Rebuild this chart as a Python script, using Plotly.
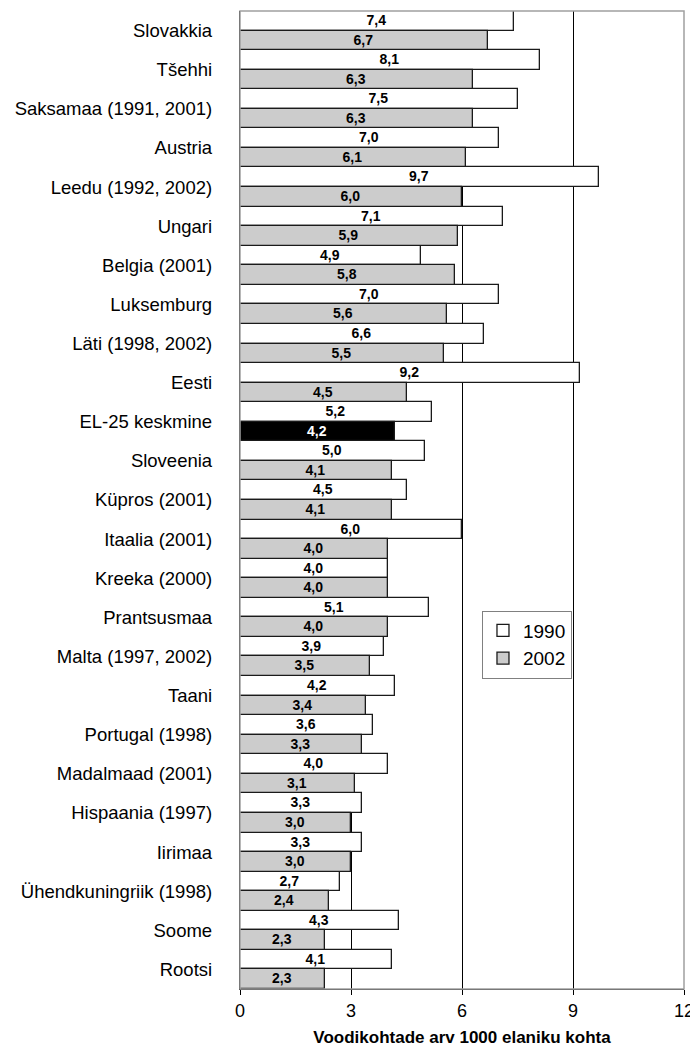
import plotly.graph_objects as go

categories = ["Slovakkia", "Tšehhi", "Saksamaa (1991, 2001)", "Austria", "Leedu (1992, 2002)",
              "Ungari", "Belgia (2001)", "Luksemburg", "Läti (1998, 2002)", "Eesti",
              "EL-25 keskmine", "Sloveenia", "Küpros (2001)", "Itaalia (2001)", "Kreeka (2000)",
              "Prantsusmaa", "Malta (1997, 2002)", "Taani", "Portugal (1998)", "Madalmaad (2001)",
              "Hispaania (1997)", "Iirimaa", "Ühendkuningriik (1998)", "Soome", "Rootsi"]
values_1990 = [7.4, 8.1, 7.5, 7.0, 9.7, 7.1, 4.9, 7.0, 6.6, 9.2,
               5.2, 5.0, 4.5, 6.0, 4.0, 5.1, 3.9, 4.2, 3.6, 4.0,
               3.3, 3.3, 2.7, 4.3, 4.1]
values_2002 = [6.7, 6.3, 6.3, 6.1, 6.0, 5.9, 5.8, 5.6, 5.5, 4.5,
               4.2, 4.1, 4.1, 4.0, 4.0, 4.0, 3.5, 3.4, 3.3, 3.1,
               3.0, 3.0, 2.4, 2.3, 2.3]
x_ticks = [0, 3, 6, 9, 12]

FONT = "Liberation Sans"

def fmt(v):
    return f"{v:.1f}".replace(".", ",")

colors_2002 = ["#000000" if c == "EL-25 keskmine" else "#cccccc" for c in categories]
textcol_2002 = ["#ffffff" if c == "EL-25 keskmine" else "#000000" for c in categories]

fig = go.Figure()
fig.add_trace(go.Bar(
    y=categories, x=values_1990, orientation="h", name="1990",
    marker=dict(color="#ffffff", line=dict(color="#1a1a1a", width=1.3)),
    text=[fmt(v) for v in values_1990], textposition="inside", insidetextanchor="middle",
    textangle=0, constraintext="none",
    textfont=dict(family=FONT, size=14, color="#000000", weight="bold"),
))
fig.add_trace(go.Bar(
    y=categories, x=values_2002, orientation="h", name="2002",
    marker=dict(color=colors_2002, line=dict(color="#1a1a1a", width=1.3)),
    text=[fmt(v) for v in values_2002], textposition="inside", insidetextanchor="middle",
    textangle=0, constraintext="none",
    textfont=dict(family=FONT, size=14, color=textcol_2002, weight="bold"),
))

fig.add_shape(type="rect", xref="paper", yref="paper", x0=0, x1=1, y0=0, y1=1,
              line=dict(color="#a0a0a0", width=1.5), layer="above")

# page body adds an 8px margin; compensate so the plot lands where the reference has it
fig.update_layout(
    width=690, height=1039,
    margin=dict(l=232, r=14, t=3, b=58, autoexpand=False),
    barmode="group", bargap=0, bargroupgap=0,
    plot_bgcolor="#ffffff", paper_bgcolor="#ffffff",
    font=dict(family=FONT, size=18.5, color="#000000"),
    showlegend=True,
    legend=dict(x=0.545, y=0.387, xanchor="left", yanchor="top",
                bgcolor="#ffffff", bordercolor="#808080", borderwidth=1,
                font=dict(family=FONT, size=19), traceorder="normal",
                itemwidth=30, tracegroupgap=0),
)
fig.update_xaxes(
    range=[0, 12], tickvals=x_ticks, ticktext=[str(t) for t in x_ticks],
    showgrid=True, gridcolor="#000000", gridwidth=1,
    showline=True, linecolor="#000000", linewidth=1.3,
    ticks="outside", ticklen=5, tickcolor="#000000",
    tickfont=dict(family=FONT, size=18),
    zeroline=False, automargin=False,
    title=dict(text="<b>Voodikohtade arv 1000 elaniku kohta</b>",
               font=dict(family=FONT, size=17), standoff=12),
)
fig.update_yaxes(
    autorange="reversed", showline=True, linecolor="#000000", linewidth=1.3,
    ticks="", showgrid=False, tickfont=dict(family=FONT, size=18.5),
    ticklabelstandoff=23, automargin=False,
)

fig.write_html("out.html")
